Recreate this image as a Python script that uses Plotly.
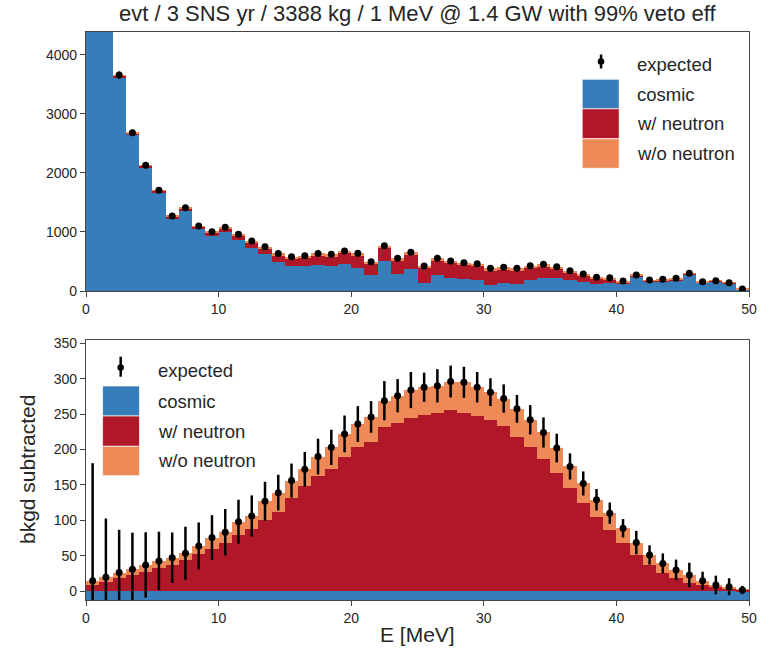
import plotly.graph_objects as go

# ---------------- data ----------------
E_centers = [i + 0.5 for i in range(50)]

# top panel: events / 1 MeV
top_expected = [27500, 6900, 3655, 2678, 2130, 1706, 1271, 1410, 1100, 1005,
                1078, 960, 845, 750, 635, 580, 597, 635, 621, 678,
                638, 497, 768, 554, 655, 424, 554, 508, 480, 463,
                384, 401, 384, 429, 452, 412, 344, 288, 232, 226,
                170, 271, 186, 198, 215, 300, 158, 175, 141, 34]
top_cosmic = [27463, 6865, 3622, 2642, 2090, 1663, 1223, 1359, 1043, 939,
              998, 871, 736, 624, 498, 425, 427, 447, 429, 451,
              395, 270, 507, 287, 373, 141, 271, 215, 198, 181,
              102, 141, 125, 186, 215, 215, 186, 158, 119, 130,
              113, 240, 158, 158, 186, 280, 145, 166, 135, 31]
top_wn = [30, 28, 25, 28, 30, 33, 38, 42, 45, 50,
          65, 70, 90, 100, 110, 130, 145, 160, 160, 195,
          210, 192, 224, 228, 242, 243, 243, 253, 239, 240,
          242, 221, 219, 205, 198, 162, 127, 103, 88, 72,
          36, 14, 14, 27, 17, 10, 7, 5, 3, 2]
top_won = [7, 7, 8, 8, 10, 10, 10, 9, 12, 16,
           15, 19, 19, 26, 27, 25, 25, 28, 32, 32,
           33, 35, 37, 39, 40, 40, 40, 40, 43, 42,
           40, 39, 40, 38, 39, 35, 31, 27, 25, 24,
           21, 17, 14, 13, 12, 10, 6, 4, 3, 1]
errors = [166, 83, 60.5, 51.7, 46.2, 41.3, 35.7, 37.5, 33.2, 31.7,
          32.8, 31.0, 29.1, 27.4, 25.2, 24.1, 24.4, 25.2, 24.9, 26.0,
          25.3, 22.3, 27.7, 23.5, 25.6, 20.6, 23.5, 22.5, 21.9, 21.5,
          19.6, 20.0, 19.6, 20.7, 21.3, 20.3, 18.5, 17.0, 15.2, 15.0,
          13.0, 16.5, 13.6, 14.1, 14.7, 17.3, 12.6, 13.2, 11.9, 5.8]

# bottom panel: background subtracted
sub_expected = [14.6, 19.4, 26, 30.7, 36.8, 42.5, 47, 53.4, 63.7, 75.5,
                83, 98, 106, 127, 139, 156, 172, 190, 203, 222,
                236, 246, 269, 276, 284, 288, 290, 296, 295, 288,
                281, 272, 257.5, 242, 224, 202, 176, 152, 129, 110,
                88.7, 68.4, 51, 39, 29.7, 22.6, 14.6, 8.5, 6.1, 1.4]
sub_cosmic = [-15, -15, -15, -15, -15, -15, -15, -15, -15, -15,
              -15, -15, -15, -15, -15, -15, -15, -15, -15, -15,
              -15, -15, -15, -15, -15, -15, -15, -15, -15, -15,
              -15, -15, -15, -15, -15, -15, -15, -15, -15, -15,
              -15, -15, -15, -15, -15, -15, -15, -15, -15, -15]
sub_wn = [8.5, 13, 18, 22.6, 27.4, 32, 36.8, 44, 52.4, 59.5,
          67.5, 79, 87, 100.5, 112, 131, 147.7, 162, 172, 190,
          203, 211, 231.6, 238, 244, 249, 251, 256, 252, 247,
          242, 233.5, 218, 204, 186, 167, 145, 125, 104, 86,
          68, 51, 37, 26, 18, 12, 8.5, 5, 3.3, 2]
sub_won = [6.1, 6.4, 8, 8.1, 9.4, 10.5, 10.2, 9.4, 11.3, 16,
           15.5, 19, 19, 26.5, 27, 25, 24.3, 28, 31, 32,
           33, 35, 37.4, 38, 40, 39, 39, 40, 43, 41,
           39, 38.5, 39.5, 38, 38, 35, 31, 27, 25, 24,
           20.7, 17.4, 14, 13, 11.7, 10.6, 6.1, 3.5, 2.8, 0.5]

x_ticks = [0, 10, 20, 30, 40, 50]
top_y_ticks = [0, 1000, 2000, 3000, 4000]
bot_y_ticks = [0, 50, 100, 150, 200, 250, 300, 350]

# ---------------- style ----------------
C_COS = "#377db9"
C_WN = "#b0182a"
C_WON = "#ee8a58"
FONT = "Liberation Sans"
AX = "#444444"
TXT = "#262626"

W, H = 769, 653
ML, MR, MT, MB = 86, 14, 32, 53
PW, PH = W - ML - MR, H - MT - MB


def px(x):
    return (x - ML) / PW


def py(y):
    return (H - MB - y) / PH


fig = go.Figure()

for (vals, col, name) in [(top_cosmic, C_COS, "cosmic"), (top_wn, C_WN, "w/ neutron"),
                          (top_won, C_WON, "w/o neutron")]:
    fig.add_trace(go.Bar(x=E_centers, y=vals, width=1, marker=dict(color=col, line=dict(width=0)),
                         name=name, showlegend=False, xaxis="x", yaxis="y"))
fig.add_trace(go.Scatter(x=E_centers, y=top_expected, mode="markers",
                         marker=dict(color="black", size=7),
                         error_y=dict(type="data", array=errors, color="black", thickness=2, width=0),
                         showlegend=False, xaxis="x", yaxis="y"))

for (vals, col, name) in [(sub_cosmic, C_COS, "cosmic"), (sub_wn, C_WN, "w/ neutron"),
                          (sub_won, C_WON, "w/o neutron")]:
    fig.add_trace(go.Bar(x=E_centers, y=vals, width=1, marker=dict(color=col, line=dict(width=0)),
                         name=name, showlegend=False, xaxis="x2", yaxis="y2"))
fig.add_trace(go.Scatter(x=E_centers, y=sub_expected, mode="markers",
                         marker=dict(color="black", size=7),
                         error_y=dict(type="data", array=errors, color="black", thickness=2.5, width=0),
                         showlegend=False, xaxis="x2", yaxis="y2"))

axis_common = dict(showline=True, linecolor=AX, linewidth=1.2, mirror=True, ticks="outside",
                   ticklen=5, tickwidth=1.2, tickcolor=AX, showgrid=False, zeroline=False,
                   tickfont=dict(family=FONT, size=14, color=TXT))

top_dom = [py(291), 1]
bot_dom = [0, py(340)]

fig.update_layout(
    width=W, height=H, margin=dict(l=ML, r=MR, t=MT, b=MB),
    paper_bgcolor="white", plot_bgcolor="white",
    barmode="relative", bargap=0,
    xaxis=dict(domain=[0, 1], range=[0, 50], tickvals=x_ticks, anchor="y", **axis_common),
    yaxis=dict(domain=top_dom, range=[0, 4385], tickvals=top_y_ticks, anchor="x", **axis_common),
    xaxis2=dict(domain=[0, 1], range=[0, 50], tickvals=x_ticks, anchor="y2", **axis_common),
    yaxis2=dict(domain=bot_dom, range=[-12.7, 354.7], tickvals=bot_y_ticks, anchor="x2", **axis_common),
)

annotations = [
    dict(text="evt / 3 SNS yr / 3388 kg / 1 MeV @ 1.4 GW with 99% veto eff", x=px(420.7), y=py(13),
         font=dict(size=22, family=FONT, color=TXT)),
    dict(text="E [MeV]", x=px(420.7), y=py(634), font=dict(size=21, family=FONT, color=TXT)),
    dict(text="bkgd subtracted", x=px(26.5), y=py(470), textangle=-90,
         font=dict(size=21, family=FONT, color=TXT)),
]

shapes = []


def legend(ex_x, ex_y0, ex_y1, ex_dot, text_x, ex_text_y, rect_x0, rect_x1, rects):
    shapes.append(dict(type="line", xref="paper", yref="paper", x0=px(ex_x), x1=px(ex_x),
                       y0=py(ex_y0), y1=py(ex_y1), line=dict(color="black", width=2.5)))
    r = 3.3
    shapes.append(dict(type="circle", xref="paper", yref="paper", x0=px(ex_x - r), x1=px(ex_x + r),
                       y0=py(ex_dot - r), y1=py(ex_dot + r), fillcolor="black", line=dict(width=0)))
    annotations.append(dict(text="expected", x=px(text_x), y=py(ex_text_y), xanchor="left",
                            font=dict(size=18.5, family=FONT, color=TXT)))
    for (y0, y1, col, label) in rects:
        shapes.append(dict(type="rect", xref="paper", yref="paper", x0=px(rect_x0), x1=px(rect_x1),
                           y0=py(y0), y1=py(y1), fillcolor=col,
                           line=dict(color="rgba(255,255,255,0.7)", width=1)))
        annotations.append(dict(text=label, x=px(text_x), y=py((y0 + y1) / 2), xanchor="left",
                                font=dict(size=18.5, family=FONT, color=TXT)))


legend(605.7, 54.5, 68.5, 61.5, 640, 64, 586.7, 624,
       [(79.3, 108.8, C_COS, "cosmic"), (108.8, 138.8, C_WN, "w/ neutron"),
        (138.8, 168.3, C_WON, "w/o neutron")])
legend(121, 356.7, 376.7, 367.5, 156.7, 370.5, 102.7, 140,
       [(386, 416, C_COS, "cosmic"), (416, 446.3, C_WN, "w/ neutron"),
        (446.3, 475.7, C_WON, "w/o neutron")])

for a in annotations:
    a.setdefault("xref", "paper")
    a.setdefault("yref", "paper")
    a.setdefault("showarrow", False)
    a.setdefault("xanchor", "center")
    a.setdefault("yanchor", "middle")

fig.update_layout(annotations=annotations, shapes=shapes)
fig.write_html("out.html")
